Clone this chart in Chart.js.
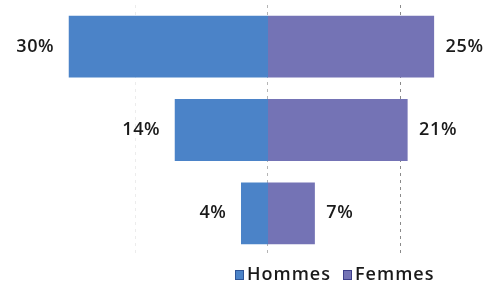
<!DOCTYPE html>
<html>
<head>
<meta charset="utf-8">
<script src="https://cdn.jsdelivr.net/npm/chart.js@4/dist/chart.umd.min.js"></script>
<style>
  html, body { margin: 0; padding: 0; background: #fff; }
  #wrap { position: relative; width: 489px; height: 284px; }
  #legend {
    position: absolute; left: 235px; top: 261px;
    font: 600 18px "Open Sans", sans-serif; color: #1a1a1a; white-space: nowrap;
    letter-spacing: 1px;
  }
  #legend span.item { margin-right: 12px; }
  #legend span.box {
    display: inline-block; width: 9px; height: 10px; margin-right: 3px;
    vertical-align: 0px; box-sizing: border-box;
  }
</style>
</head>
<body>
<div id="wrap">
  <canvas id="chart" width="489" height="284"></canvas>
  <div id="legend"></div>
</div>
<script>
// rangées de haut en bas
const categories = ['A', 'B', 'C'];
const hommes = [30, 14, 4];
const femmes = [25, 21, 7];
const gridTicks = [-20, 0, 20];

const colorHommes = '#4b83c8';
const colorFemmes = '#7473b5';

// étiquettes "xx%" au bout de chaque barre
const barLabels = {
    id: 'barLabels',
    afterDatasetsDraw(chart) {
        const ctx = chart.ctx;
        ctx.save();
        ctx.font = '600 18px "Open Sans", sans-serif';
        ctx.letterSpacing = '0.6px';
        ctx.fillStyle = '#1a1a1a';
        ctx.textBaseline = 'middle';
        chart.data.datasets.forEach((ds, i) => {
            chart.getDatasetMeta(i).data.forEach((bar, j) => {
                const v = ds.data[j];
                const txt = Math.abs(v) + '%';
                if (v < 0) {
                    ctx.textAlign = 'right';
                    ctx.fillText(txt, bar.x - 15, bar.y);
                } else {
                    ctx.textAlign = 'left';
                    ctx.fillText(txt, bar.x + 12, bar.y);
                }
            });
        });
        ctx.restore();
    }
};

const chart = new Chart(document.getElementById('chart'), {
    type: 'bar',
    data: {
        labels: categories,
        datasets: [
            {
                label: 'Hommes',
                data: hommes.map(v => -v),
                backgroundColor: colorHommes,
                borderColor: '#2f5597',
                borderWidth: 0,
                inflateAmount: 0.5
            },
            {
                label: 'Femmes',
                data: femmes,
                backgroundColor: colorFemmes,
                borderColor: '#3e3f8a',
                borderWidth: 0,
                inflateAmount: 0.5
            }
        ]
    },
    options: {
        indexAxis: 'y',
        responsive: false,
        animation: false,
        layout: { padding: { left: 3, right: 1, top: 5, bottom: 29 } },
        scales: {
            x: {
                stacked: true,
                min: -40,
                max: 33.208,
                afterBuildTicks: (scale) => {
                    scale.ticks = gridTicks.map(v => ({ value: v }));
                },
                ticks: { display: false },
                grid: {
                    drawTicks: false,
                    lineWidth: 1,
                    color: (c) => c.tick && c.tick.value === 20 ? '#8a8a8a'
                        : c.tick && c.tick.value === 0 ? '#b5b5b5' : '#ececec'
                },
                border: { display: false, dash: [3, 4] }
            },
            y: {
                stacked: true,
                display: false
            }
        },
        datasets: {
            bar: { categoryPercentage: 1, barPercentage: 0.73 }
        },
        plugins: {
            legend: { display: false },
            tooltip: { enabled: false }
        }
    },
    plugins: [barLabels]
});

// légende maison, placée comme sur l'original
const legend = document.getElementById('legend');
chart.data.datasets.forEach(ds => {
    const item = document.createElement('span');
    item.className = 'item';
    item.innerHTML = '<span class="box" style="background:' + ds.backgroundColor +
        ';border:1px solid ' + ds.borderColor + '"></span>' + ds.label;
    legend.appendChild(item);
});
</script>
</body>
</html>
